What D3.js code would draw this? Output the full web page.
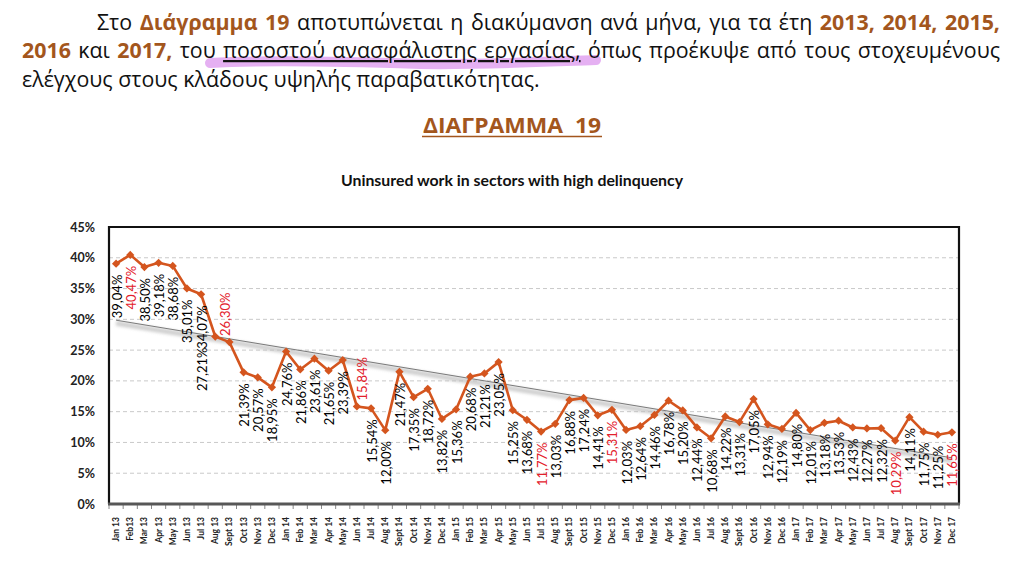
<!DOCTYPE html>
<html><head><meta charset="utf-8">
<script src="https://cdn.jsdelivr.net/npm/d3@7"></script>
<style>body{margin:0;background:#fff} svg{display:block}</style>
</head><body><svg id="c" width="1024" height="564"></svg>
<script>
const months = ["Jan 13","Feb13","Mar 13","Apr 13","May 13","Jun 13","Jul 13","Aug 13","Sept 13","Oct 13","Nov 13","Dec 13",
"Jan 14","Feb 14","Mar 14","Apr 14","May 14","Jun 14","Jul 14","Aug 14","Sept 14","Oct 14","Nov 14","Dec 14",
"Jan 15","Feb 15","Mar 15","Apr 15","May 15","Jun 15","Jul 15","Aug 15","Sept 15","Oct 15","Nov 15","Dec 15",
"Jan 16","Feb 16","Mar 16","Apr 16","May 16","Jun 16","Jul 16","Aug 16","Sept 16","Oct 16","Nov 16","Dec 16",
"Jan 17","Feb 17","Mar 17","Apr 17","May 17","Jun 17","Jul 17","Aug 17","Sept 17","Oct 17","Nov 17","Dec 17"];
const values = [39.04,40.47,38.50,39.18,38.68,35.01,34.07,27.21,26.30,21.39,20.57,18.95,
24.76,21.86,23.61,21.65,23.39,15.84,15.54,12.00,21.47,17.35,18.72,13.82,
15.36,20.68,21.21,23.05,15.25,13.68,11.77,13.03,16.88,17.24,14.41,15.31,
12.03,12.64,14.46,16.78,15.20,12.44,10.68,14.22,13.31,17.05,12.94,12.19,
14.80,12.01,13.18,13.53,12.43,12.27,12.32,10.29,14.11,11.75,11.25,11.65];
const highlighted = ["Feb13","Sept 13","Jun 14","Jul 15","Dec 15","Aug 17","Dec 17"];
const yTicks = [0,5,10,15,20,25,30,35,40,45];
const chartTitle = "Uninsured work in sectors with high delinquency";
const figureTitle = "ΔΙΑΓΡΑΜΜΑ  19";
const headerLines = [
  [["Στο ",0],["Διάγραμμα 19",1],[" αποτυπώνεται η διακύμανση ανά μήνα, για τα έτη ",0],["2013, 2014, 2015,",1]],
  [["2016",1],[" και ",0],["2017,",1],[" του ",0],["ποσοστού ανασφάλιστης εργασίας,",2],[" όπως προέκυψε από τους στοχευμένους",0]],
  [["ελέγχους στους κλάδους υψηλής παραβατικότητας.",0]]
];

const svg = d3.select("#c");
svg.append("rect").attr("width",1024).attr("height",564).attr("fill","#fff");
const brown = "#A3561D";
const headFont = "'Open Sans','Noto Sans',sans-serif";
const latin = "Lato,'Open Sans',sans-serif";

// highlighter stroke
svg.append("path")
  .attr("d","M210,63 C260,60 330,61 420,64 C480,65 540,62 596,60")
  .attr("fill","none").attr("stroke","#DC95EE").attr("stroke-width",10)
  .attr("stroke-linecap","round").attr("opacity",0.75);

// header paragraph
const lineGeom = [{x:97,y:30,right:1000,justify:true},{x:22,y:58,right:1000,justify:true},{x:22,y:87,right:540,justify:false}];
const texts = headerLines.map((parts,i)=>{
  const t = svg.append("text").attr("font-family",headFont).attr("font-size",22)
    .attr("fill","#111").style("white-space","pre");
  parts.forEach(([s,k])=>{
    const ts = t.append("tspan").text(s);
    if(k===1) ts.attr("font-weight","bold").attr("fill",brown);
    if(k===2) ts.style("text-decoration","underline");
  });
  return t;
});
const w3 = texts[2].node().getComputedTextLength();
const sx = (lineGeom[2].right - lineGeom[2].x)/w3;
texts.forEach((t,i)=>{
  const g = lineGeom[i];
  t.attr("transform",`translate(${g.x},${g.y}) scale(${sx},1)`);
  if(g.justify){
    const w = t.node().getComputedTextLength();
    const target = (g.right-g.x)/sx;
    const n = headerLines[i].map(p=>p[0]).join("").split(" ").length-1;
    t.style("word-spacing", ((target-w)/n)+"px");
  }
});

// figure title
svg.append("text").attr("x",423).attr("y",133).attr("font-family",headFont)
  .attr("font-weight","bold").attr("font-size",21).attr("fill",brown)
  .style("white-space","pre").attr("textLength",178).attr("lengthAdjust","spacingAndGlyphs").text(figureTitle);
svg.append("line").attr("x1",422).attr("x2",602).attr("y1",136.5).attr("y2",136.5)
  .attr("stroke",brown).attr("stroke-width",1.6);

// chart title
svg.append("text").attr("x",512).attr("y",186).attr("text-anchor","middle")
  .attr("font-family",latin).attr("font-weight","bold").attr("font-size",15).attr("fill","#111")
  .attr("textLength",342).attr("lengthAdjust","spacingAndGlyphs").text(chartTitle);

// scales
const P = {left:109,right:959,top:227,bottom:504};
const x = d3.scaleBand().domain(months).range([P.left,P.right]);
const cx = m => x(m)+x.bandwidth()/2;
const y = d3.scaleLinear().domain([0,45]).range([P.bottom,P.top]);

// gridlines
svg.append("g").selectAll("line").data(yTicks.filter(d=>d>0&&d<45)).join("line")
  .attr("x1",P.left).attr("x2",P.right).attr("y1",d=>y(d)).attr("y2",d=>y(d))
  .attr("stroke","#c9c9c9").attr("stroke-width",1).attr("stroke-dasharray","4,3");

// y axis
const ya = svg.append("g").attr("transform",`translate(${P.left},0)`)
  .call(d3.axisLeft(y).tickValues(yTicks).tickSize(0).tickPadding(14).tickFormat(d=>d+"%"));
ya.select(".domain").remove();
ya.selectAll("text").attr("font-family",latin).attr("font-weight","bold").attr("font-size",12.5).attr("fill","#222");

// x axis
const xa = svg.append("g").attr("transform",`translate(0,${P.bottom})`)
  .call(d3.axisBottom(x).tickSize(0));
xa.select(".domain").remove();
xa.selectAll("text").attr("transform","rotate(-90)").attr("x",-13).attr("y",0).attr("dy","0.35em")
  .style("text-anchor","end").attr("font-family",latin).attr("font-weight","bold").attr("font-size",8.5).attr("fill","#222");
svg.append("g").selectAll("line").data(months.map(m=>x(m)).concat([P.right])).join("line")
  .attr("x1",d=>d).attr("x2",d=>d).attr("y1",P.bottom).attr("y2",P.bottom+5)
  .attr("stroke","#888").attr("stroke-width",1);

// trend (least squares)
const n = values.length, idx = d3.range(n);
const mx = d3.mean(idx), my = d3.mean(values);
const slope = d3.sum(idx,i=>(i-mx)*(values[i]-my))/d3.sum(idx,i=>(i-mx)*(i-mx));
const icpt = my - slope*mx;
const trendPts = [0,n-1].map(i=>[cx(months[i]), y(icpt+slope*i)]);
const defs = svg.append("defs");
defs.append("filter").attr("id","blur").append("feGaussianBlur").attr("stdDeviation",1.4);
svg.append("line").attr("x1",trendPts[0][0]).attr("y1",trendPts[0][1]+3)
  .attr("x2",trendPts[1][0]).attr("y2",trendPts[1][1]+3)
  .attr("stroke","#bdbdbd").attr("stroke-width",5).attr("opacity",0.7).attr("filter","url(#blur)");
svg.append("line").attr("x1",trendPts[0][0]).attr("y1",trendPts[0][1])
  .attr("x2",trendPts[1][0]).attr("y2",trendPts[1][1])
  .attr("stroke","#7a7a7a").attr("stroke-width",1);

// border
svg.append("path").attr("d",`M${P.left},${P.bottom} V${P.top} H${P.right} V${P.bottom}`)
  .attr("fill","none").attr("stroke","#111").attr("stroke-width",2.2);
svg.append("line").attr("x1",P.left-1).attr("x2",P.right+1).attr("y1",P.bottom).attr("y2",P.bottom)
  .attr("stroke","#575757").attr("stroke-width",3);

// series
const data = months.map((m,i)=>({m,v:values[i],i}));
const orange = "#D4551E";
svg.append("path").datum(data)
  .attr("d",d3.line().x(d=>cx(d.m)).y(d=>y(d.v)))
  .attr("fill","none").attr("stroke",orange).attr("stroke-width",2.6).attr("stroke-linejoin","round");
svg.append("g").selectAll("path").data(data).join("path")
  .attr("d",d3.symbol(d3.symbolSquare,34))
  .attr("transform",d=>`translate(${cx(d.m)},${y(d.v)}) rotate(45)`)
  .attr("fill",orange);

// labels
const fmt = d3.formatLocale({decimal:",",thousands:".",grouping:[3],currency:["","€"]}).format(".2f");
const adjust = {7:{dx:-14},8:{above:true,dx:-5},17:{above:true,dx:5}};
svg.append("g").selectAll("text").data(data).join("text")
  .attr("transform",d=>{
    const a = adjust[d.i]||{};
    const yy = a.above ? y(d.v)-6 : y(d.v)+11;
    return `translate(${cx(d.m)+(a.dx||0)+1},${yy}) rotate(-90)`;
  })
  .attr("text-anchor",d=>(adjust[d.i]&&adjust[d.i].above)?"start":"end")
  .attr("dy","0.35em")
  .attr("font-family",latin).attr("font-size",13)
  .attr("fill",d=>highlighted.includes(d.m)?"#E3202B":"#000")
  .text(d=>fmt(d.v)+"%");
</script></body></html>
